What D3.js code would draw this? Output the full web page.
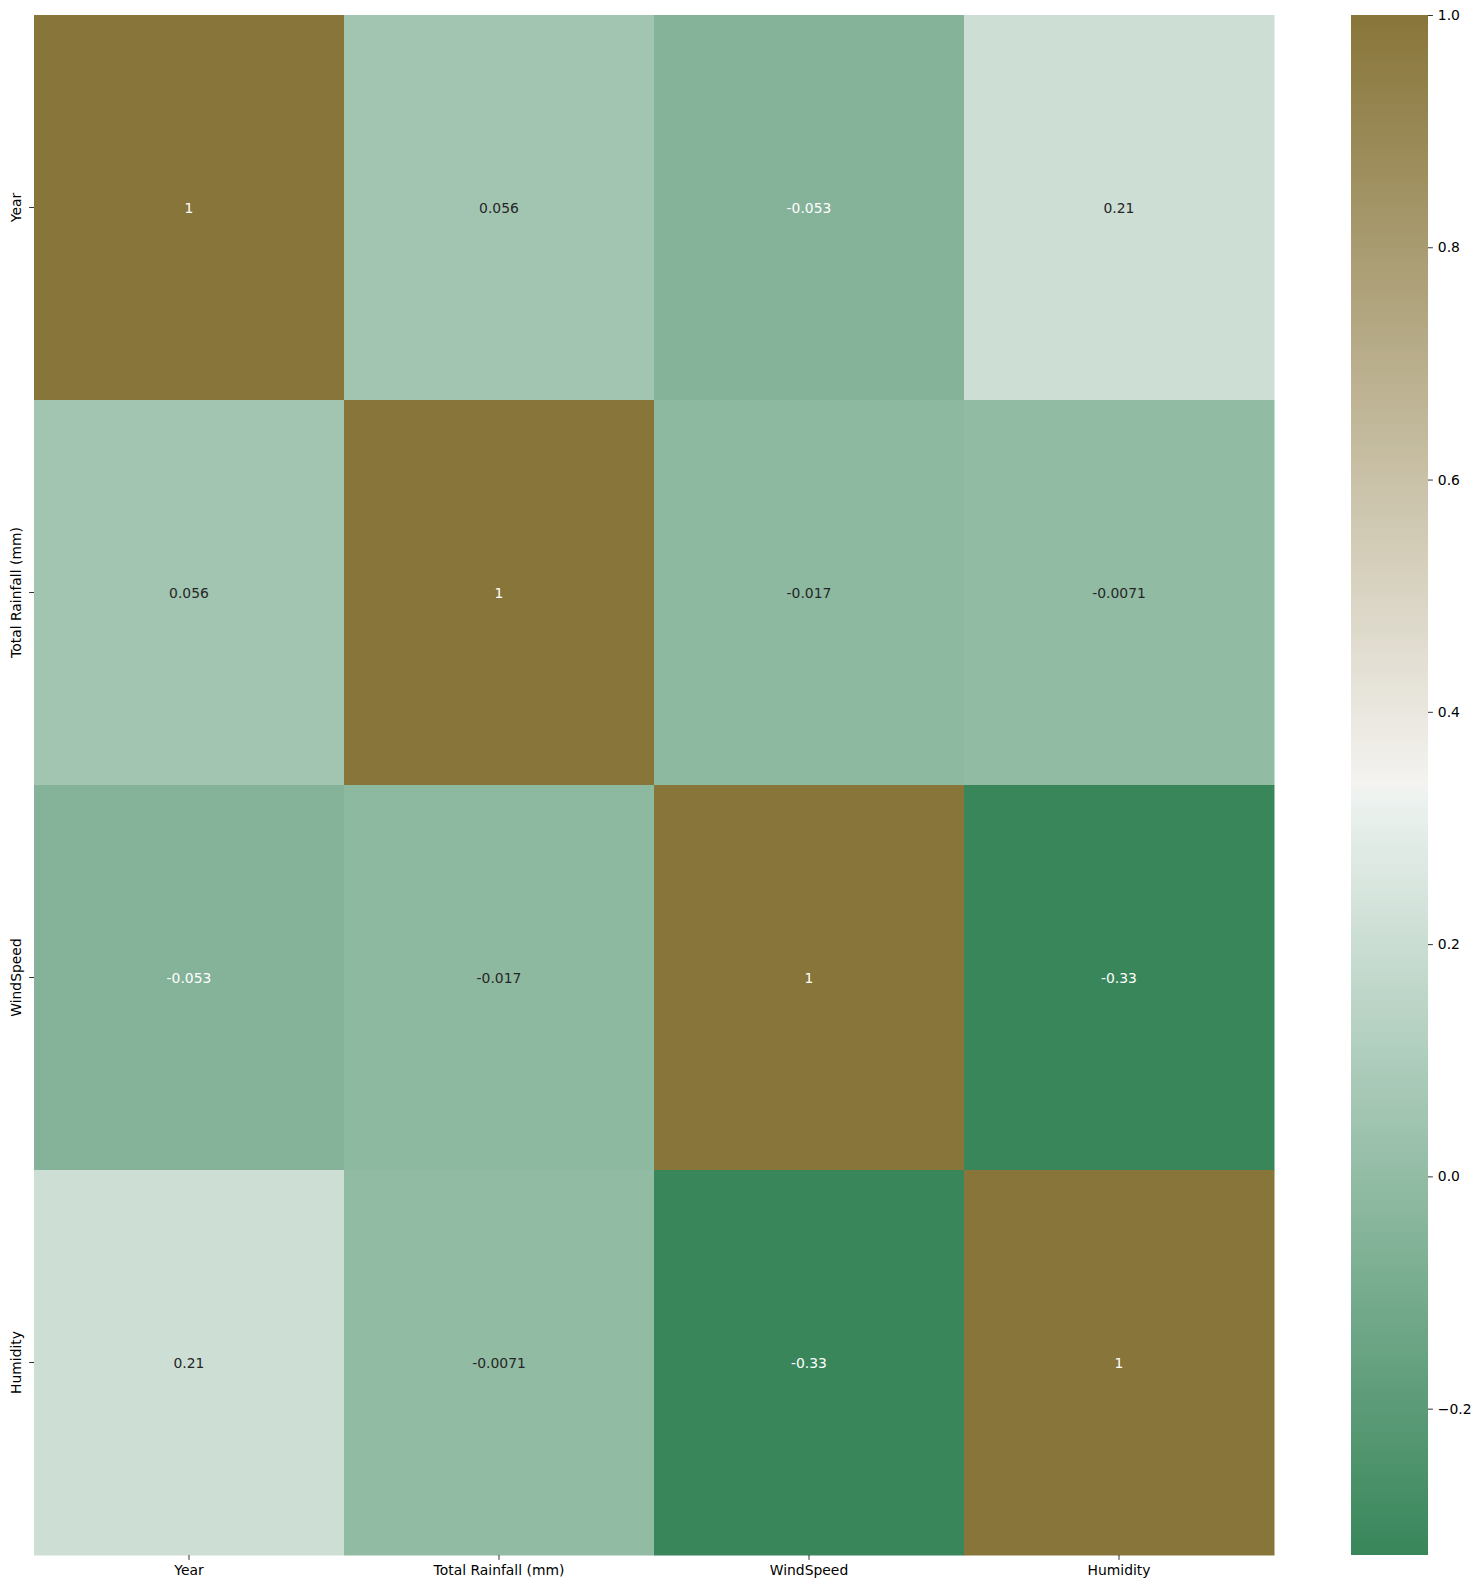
<!DOCTYPE html>
<html>
<head>
<meta charset="utf-8">
<script src="https://cdn.jsdelivr.net/npm/d3@7"></script>
<style>
  html, body { margin: 0; padding: 0; background: #ffffff; }
  svg { display: block; }
  text { font-family: "DejaVu Sans", sans-serif; }
</style>
</head>
<body>
<div id="chart"></div>
<script>
// ---- data ----
const variables = ["Year", "Total Rainfall (mm)", "WindSpeed", "Humidity"];
const rowYear      = [1, 0.056, -0.053, 0.21];
const rowRainfall  = [0.056, 1, -0.017, -0.0071];
const rowWindSpeed = [-0.053, -0.017, 1, -0.33];
const rowHumidity  = [0.21, -0.0071, -0.33, 1];
const colorbarTicks = [-0.2, 0.0, 0.2, 0.4, 0.6, 0.8, 1.0];
const valueMin = -0.326;
const valueMax = 1.0;
const lowColor = "#38865a";
const highColor = "#887539";

const matrix = [rowYear, rowRainfall, rowWindSpeed, rowHumidity];

// ---- layout ----
const W = 1481, H = 1589;
const plot = { left: 34, top: 15, right: 1274, bottom: 1555 };
const cbar = { left: 1351, right: 1428, top: 15, bottom: 1555 };
const fontSize = 13.9;

const svg = d3.select("#chart").append("svg")
  .attr("width", W).attr("height", H);

// ---- color scale (diverging, light center, linear RGB) ----
const mid = (valueMin + valueMax) / 2;
function lightOf(c) {
  const h = d3.hsl(c); h.l = 0.95;
  return d3.interpolateRgb("#f2f2f2", h.formatHex())(0.35);
}
const negScale = d3.scaleLinear().domain([valueMin, mid]).range([lowColor, lightOf(lowColor)]).interpolate(d3.interpolateRgb).clamp(true);
const posScale = d3.scaleLinear().domain([mid, valueMax]).range([lightOf(highColor), highColor]).interpolate(d3.interpolateRgb).clamp(true);
function color(v) { return v < mid ? negScale(v) : posScale(v); }

// ---- scales ----
const x = d3.scaleBand().domain(variables).range([plot.left, plot.right]).padding(0);
const y = d3.scaleBand().domain(variables).range([plot.top, plot.bottom]).padding(0);

const cells = [];
matrix.forEach((row, i) => row.forEach((v, j) => cells.push({ r: variables[i], c: variables[j], v })));

svg.append("g").selectAll("rect").data(cells).join("rect")
  .attr("x", d => x(d.c)).attr("y", d => y(d.r))
  .attr("width", x.bandwidth() + 0.5).attr("height", y.bandwidth() + 0.5)
  .attr("fill", d => color(d.v));

function luminance(c) {
  const rgb = d3.rgb(c);
  const f = u => { u /= 255; return u <= 0.03928 ? u / 12.92 : Math.pow((u + 0.055) / 1.055, 2.4); };
  return 0.2126 * f(rgb.r) + 0.7152 * f(rgb.g) + 0.0722 * f(rgb.b);
}
const fmt = v => d3.format(".2~g")(v).replace("−", "-");

svg.append("g").selectAll("text").data(cells).join("text")
  .attr("x", d => x(d.c) + x.bandwidth() / 2)
  .attr("y", d => y(d.r) + y.bandwidth() / 2)
  .attr("text-anchor", "middle")
  .attr("dominant-baseline", "central")
  .attr("font-size", fontSize)
  .attr("fill", d => luminance(color(d.v)) > 0.408 ? "#262626" : "#ffffff")
  .text(d => fmt(d.v));

// ---- axes ----
const tickLen = 4.9;
const xAxisG = svg.append("g").attr("transform", `translate(0,${plot.bottom})`)
  .call(d3.axisBottom(x).tickSize(tickLen).tickPadding(4.9));
xAxisG.select(".domain").remove();
xAxisG.selectAll("text").attr("font-size", fontSize).attr("fill", "#000").attr("font-family", "DejaVu Sans, sans-serif");
xAxisG.selectAll("line").attr("stroke", "#000").attr("stroke-width", 0.8);

const yAxisG = svg.append("g").attr("transform", `translate(${plot.left},0)`)
  .call(d3.axisLeft(y).tickSize(tickLen).tickPadding(4.9));
yAxisG.select(".domain").remove();
yAxisG.selectAll("line").attr("stroke", "#000").attr("stroke-width", 0.8);
yAxisG.selectAll("text")
  .attr("font-size", fontSize).attr("fill", "#000").attr("font-family", "DejaVu Sans, sans-serif")
  .attr("x", null).attr("dy", null)
  .attr("text-anchor", "middle")
  .attr("transform", `translate(${-tickLen - 4.9 - 3.3},0) rotate(-90)`);

// ---- colorbar ----
const cScale = d3.scaleLinear().domain([valueMin, valueMax]).range([cbar.bottom, cbar.top]);
const defs = svg.append("defs");
const grad = defs.append("linearGradient").attr("id", "cbgrad")
  .attr("x1", 0).attr("y1", 1).attr("x2", 0).attr("y2", 0);
const nStops = 200;
d3.range(nStops + 1).forEach(k => {
  const t = k / nStops;
  const v = valueMin + t * (valueMax - valueMin);
  grad.append("stop").attr("offset", t).attr("stop-color", color(v));
});
svg.append("rect")
  .attr("x", cbar.left).attr("y", cbar.top)
  .attr("width", cbar.right - cbar.left).attr("height", cbar.bottom - cbar.top)
  .attr("fill", "url(#cbgrad)");

const cAxisG = svg.append("g").attr("transform", `translate(${cbar.right},0)`)
  .call(d3.axisRight(cScale).tickValues(colorbarTicks).tickSize(tickLen).tickPadding(4.9)
    .tickFormat(d => d3.format(".1f")(d)));
cAxisG.select(".domain").remove();
cAxisG.selectAll("line").attr("stroke", "#000").attr("stroke-width", 0.8);
cAxisG.selectAll("text").attr("font-size", fontSize).attr("fill", "#000").attr("font-family", "DejaVu Sans, sans-serif");
</script>
</body>
</html>
